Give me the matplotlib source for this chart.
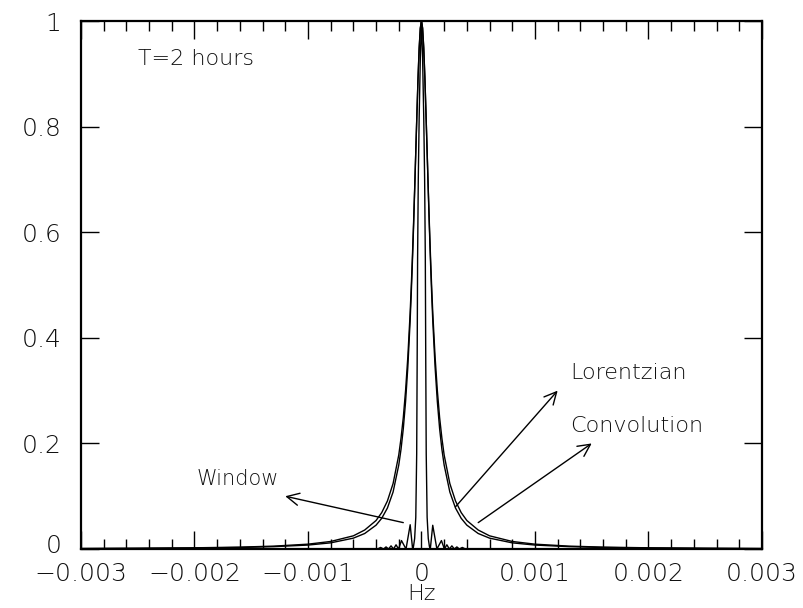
import matplotlib
matplotlib.use("Agg")
import matplotlib.pyplot as plt
from matplotlib.ticker import MultipleLocator
from matplotlib.transforms import ScaledTranslation

# frequency grid (Hz), shared by the Lorentzian and convolution
freq = [
    -0.003, -0.0025, -0.002, -0.0016, -0.0013, -0.001, -0.0008, -0.0006, -0.0005,
    -0.0004, -0.00035, -0.0003, -0.00025, -0.0002, -0.00018, -0.00016, -0.00014,
    -0.00012, -0.0001, -0.00009, -0.00008, -0.00007, -0.00006, -0.00005, -0.00004,
    -0.00003, -0.00002, -0.00001, 0.0,
    0.00001, 0.00002, 0.00003, 0.00004, 0.00005, 0.00006, 0.00007, 0.00008,
    0.00009, 0.0001, 0.00012, 0.00014, 0.00016, 0.00018, 0.0002, 0.00025, 0.0003,
    0.00035, 0.0004, 0.0005, 0.0006, 0.0008, 0.001, 0.0013, 0.0016, 0.002,
    0.0025, 0.003,
]
lorentzian = [
    0.0008, 0.0012, 0.0019, 0.0029, 0.0045, 0.0075, 0.0117, 0.0206, 0.0294,
    0.0452, 0.0582, 0.0776, 0.108, 0.159, 0.189, 0.228, 0.279,
    0.345, 0.431, 0.483, 0.542, 0.607, 0.678, 0.752, 0.825,
    0.894, 0.950, 0.987, 1.0,
    0.987, 0.950, 0.894, 0.825, 0.752, 0.678, 0.607, 0.542,
    0.483, 0.431, 0.345, 0.279, 0.228, 0.189, 0.159, 0.108, 0.0776,
    0.0582, 0.0452, 0.0294, 0.0206, 0.0117, 0.0075, 0.0045, 0.0029, 0.0019,
    0.0012, 0.0008,
]
convolution = [
    0.001, 0.0015, 0.0023, 0.0036, 0.0055, 0.0092, 0.0143, 0.025, 0.036,
    0.054, 0.069, 0.091, 0.124, 0.178, 0.210, 0.249, 0.300,
    0.364, 0.446, 0.496, 0.552, 0.614, 0.682, 0.753, 0.824,
    0.892, 0.948, 0.986, 1.0,
    0.986, 0.948, 0.892, 0.824, 0.753, 0.682, 0.614, 0.552,
    0.496, 0.446, 0.364, 0.300, 0.249, 0.210, 0.178, 0.124, 0.091,
    0.069, 0.054, 0.036, 0.025, 0.0143, 0.0092, 0.0055, 0.0036, 0.0023,
    0.0015, 0.001,
]

# spectral window: narrow main lobe with small side lobes
win_freq = [
    -0.003, -0.000387, -0.00036, -0.000334, -0.000312, -0.00029, -0.000268,
    -0.000246, -0.000224, -0.000202, -0.000176, -0.000136, -0.0000994,
    -0.000078, -0.00007, -0.00006, -0.00005, -0.000042, -0.000038, -0.000034,
    -0.000028, -0.00002, -0.00001, 0.0,
    0.00001, 0.00002, 0.000028, 0.000034, 0.000038, 0.000042, 0.00005,
    0.00006, 0.00007, 0.000078, 0.0000994, 0.000136, 0.000176, 0.000202,
    0.000224, 0.000246, 0.000268, 0.00029, 0.000312, 0.000334, 0.00036,
    0.000387, 0.003,
]
window = [
    0.0, 0.0, 0.003, 0.0, 0.004, 0.0, 0.006,
    0.0, 0.008, 0.0, 0.016, 0.0, 0.046,
    0.0, 0.005, 0.02, 0.06, 0.18, 0.35, 0.55,
    0.70, 0.82, 0.93, 1.0,
    0.93, 0.82, 0.70, 0.55, 0.35, 0.18, 0.06,
    0.02, 0.005, 0.0, 0.045, 0.0, 0.016, 0.0,
    0.008, 0.0, 0.006, 0.0, 0.004, 0.0, 0.003,
    0.0, 0.0,
]

x_ticks = [-0.003, -0.002, -0.001, 0, 0.001, 0.002, 0.003]
x_ticklabels = ["\u22120.003", "\u22120.002", "\u22120.001", "0", "0.001", "0.002", "0.003"]
y_ticks = [0, 0.2, 0.4, 0.6, 0.8, 1]
y_ticklabels = ["0", "0.2", "0.4", "0.6", "0.8", "1"]

FONT = dict(family="DejaVu Sans", weight="light", color="#111111")


def _arrow(ax, start, tip):
    ax.annotate(
        "",
        xy=tip,
        xytext=start,
        arrowprops=dict(arrowstyle="->", lw=1.0, color="black", mutation_scale=22,
                        shrinkA=0, shrinkB=0),
    )


fig = plt.figure(figsize=(8.04, 6.08), dpi=100)
fig.patch.set_facecolor("white")
ax = fig.add_axes([0.1007, 0.097, 0.847, 0.8684])

ax.plot(freq, lorentzian, color="black", lw=1.0)
ax.plot(freq, convolution, color="black", lw=1.0)
ax.plot(win_freq, window, color="black", lw=1.0)

ax.set_xlim(-0.003, 0.003)
ax.set_ylim(0, 1)
ax.xaxis.set_minor_locator(MultipleLocator(0.0002))
ax.set_xticks(x_ticks)
ax.set_xticklabels(x_ticklabels)
ax.set_yticks(y_ticks)
ax.set_yticklabels(y_ticklabels)

ax.tick_params(which="both", direction="in", top=True, right=True, width=1.0, color="black",
               labelcolor="#111111")
ax.tick_params(which="major", length=13, labelsize=18)
ax.tick_params(axis="x", which="major", pad=9)
ax.tick_params(axis="y", which="major", pad=14)
ax.tick_params(which="minor", length=7)
for lab in ax.get_xticklabels() + ax.get_yticklabels():
    lab.set_fontweight("light")
# the "0" on the y axis sits a little above the corner, clear of the x labels
zero_lab = ax.get_yticklabels()[0]
zero_lab.set_transform(zero_lab.get_transform() + ScaledTranslation(0, 4 / 72, fig.dpi_scale_trans))
for sp in ax.spines.values():
    sp.set_linewidth(1.6)

ax.set_xlabel("Hz", fontsize=16, labelpad=-1, **FONT)

ax.text(-0.0025, 0.929, "T=2 hours", fontsize=16, va="center", **FONT)
ax.text(0.00131, 0.333, "Lorentzian", fontsize=16, va="center", **FONT)
ax.text(0.00131, 0.233, "Convolution", fontsize=16, va="center", **FONT)
ax.text(-0.00198, 0.132, "Window", fontsize=15, va="center", **FONT)

_arrow(ax, (-0.00016, 0.05), (-0.0012, 0.1))
_arrow(ax, (0.0003, 0.08), (0.0012, 0.3))
_arrow(ax, (0.0005, 0.05), (0.0015, 0.2))

fig.savefig("out.png", dpi=100)
plt.close(fig)
